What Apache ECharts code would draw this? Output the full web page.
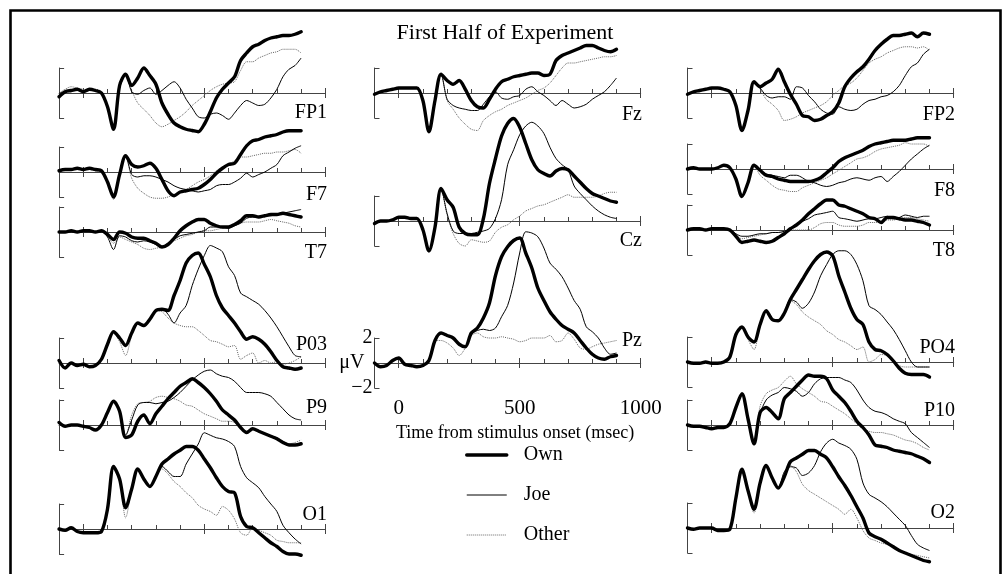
<!DOCTYPE html>
<html><head><meta charset="utf-8">
<script src="https://cdn.jsdelivr.net/npm/echarts@6/dist/echarts.min.js"></script>
<style>html,body{margin:0;padding:0;background:#fff}#c{width:1003px;height:574px}</style>
</head><body><div id="c"></div>
<script>
// time axis (ms)
const times = [-100,-75,-50,-25,0,25,50,75,100,125,150,175,200,225,250,275,300,325,350,375,400,425,450,475,500,525,550,575,600,625,650,675,700,725,750,775,800,825,850,875,900];
const xTicks = [0, 500, 1000];

// values in microvolts
const FP1_own   = [-0.3,0.1,0.2,0.3,0.1,0.3,0.2,0.0,-1.1,-2.9,0.6,1.5,0.6,1.2,2.0,1.4,0.7,-0.8,-1.7,-2.4,-2.7,-2.9,-3.0,-3.1,-2.5,-1.5,-0.4,0.3,0.8,1.3,2.6,3.2,3.7,3.9,4.2,4.4,4.5,4.6,4.6,4.7,4.9];
const FP1_joe   = [0.0,0.1,0.2,0.3,0.1,0.2,0.2,0.0,-1.0,-2.8,0.4,1.5,0.1,-0.1,0.2,0.4,-0.1,0.2,0.6,0.9,0.4,-0.5,-1.2,-1.9,-2.0,-1.7,-1.6,-1.8,-2.1,-1.6,-1.0,-0.6,-0.8,-1.0,-0.9,-0.4,0.3,1.3,1.9,2.2,2.8];
const FP1_other = [0.0,0.3,0.5,0.4,0.3,0.2,0.3,0.1,-1.0,-2.8,0.4,1.4,0.2,-0.8,-1.3,-1.8,-2.4,-2.7,-2.5,-2.2,-1.9,-1.5,-1.0,-0.6,-0.2,0.2,0.5,0.7,0.8,0.9,1.8,2.5,2.5,2.8,3.0,3.2,3.3,3.5,3.5,3.5,3.2];

const F7_own   = [0.1,0.2,0.2,0.3,0.2,0.3,0.2,0.1,-0.8,-2.0,-0.2,1.3,0.6,0.4,0.5,0.7,0.3,-0.6,-1.5,-1.9,-1.6,-1.5,-1.4,-1.3,-1.0,-0.6,-0.1,0.3,0.6,0.7,1.4,2.1,2.5,2.6,2.8,2.9,3.0,3.2,3.3,3.3,3.3];
const F7_joe   = [0.1,0.2,0.2,0.3,0.2,0.3,0.2,0.1,-0.8,-2.0,-0.2,1.3,-0.2,-0.4,-0.3,-0.3,-0.4,-0.6,-0.8,-1.1,-1.3,-1.4,-1.5,-1.6,-1.5,-1.4,-1.1,-1.0,-1.0,-0.8,-0.5,-0.1,-0.4,-0.2,0.0,0.3,0.6,1.3,1.6,1.9,2.1];
const F7_other = [0.1,0.2,0.2,0.2,0.2,0.2,0.1,0.0,-0.9,-2.2,-0.3,1.2,-0.5,-1.3,-1.7,-2.0,-2.1,-2.1,-2.0,-1.8,-1.6,-1.4,-1.1,-0.8,-0.6,-0.3,0.1,0.4,0.6,0.9,1.2,1.2,1.3,1.4,1.5,1.5,1.6,1.6,1.7,1.8,1.5];

const T7_own   = [0.0,0.0,0.1,0.0,0.1,0.1,0.0,0.1,-0.2,-0.6,0.0,-0.1,-0.4,-0.5,-0.5,-0.7,-0.9,-1.2,-1.0,-0.5,0.1,0.5,0.8,1.0,1.0,0.7,0.5,0.4,0.4,0.6,0.9,1.3,1.3,1.2,1.3,1.4,1.4,1.5,1.4,1.3,1.2];
const T7_joe   = [0.0,0.0,0.1,0.0,0.1,0.1,0.0,0.1,-0.4,-1.4,-0.3,-0.4,-0.7,-0.8,-0.7,-0.8,-1.0,-1.2,-0.9,-0.6,-0.3,-0.2,-0.1,0.0,0.1,0.4,0.4,0.4,0.3,0.5,0.7,1.1,1.2,1.2,1.3,1.3,1.4,1.5,1.6,1.7,1.8];
const T7_other = [0.0,0.0,0.1,0.0,0.1,0.1,0.0,0.1,-0.3,-0.9,-0.4,-0.6,-0.8,-1.0,-1.3,-1.4,-1.3,-1.2,-0.9,-0.7,-0.5,-0.3,-0.2,0.0,0.1,0.1,0.2,0.3,0.3,0.5,0.7,0.8,0.8,0.8,0.9,1.0,0.9,0.8,0.7,0.5,0.4];

const P03_own   = [0.2,-0.4,0.0,-0.2,-0.1,-0.3,-0.2,0.3,1.5,2.5,2.0,1.4,2.4,3.2,3.0,3.5,4.2,4.3,4.2,5.4,6.6,8.0,8.6,8.8,7.9,6.9,5.4,4.4,3.8,3.2,2.5,1.9,2.1,1.9,1.5,0.9,0.2,-0.3,-0.4,-0.5,-0.4];
const P03_joe   = [0.2,-0.4,0.0,-0.2,-0.1,-0.3,-0.2,0.3,1.5,2.5,2.0,1.4,2.4,3.2,3.0,3.5,4.2,4.3,3.9,3.2,4.0,4.6,6.2,7.5,8.6,9.4,9.2,8.9,7.7,7.0,5.6,5.3,5.0,4.7,4.2,3.6,2.9,2.1,1.3,0.6,0.5];
const P03_other = [0.2,-0.4,0.0,-0.2,-0.1,-0.3,-0.2,0.3,1.5,2.5,1.7,0.6,2.2,3.1,2.9,3.4,4.2,4.1,3.6,3.2,3.0,2.9,2.9,2.6,2.2,1.8,1.7,1.5,1.3,1.4,0.3,0.6,0.8,0.0,0.2,0.0,0.1,-0.1,0.0,0.2,0.5];

const P9_own   = [0.2,-0.1,0.0,0.0,-0.1,-0.2,-0.4,0.0,1.0,1.9,1.1,-1.0,-0.8,0.3,0.8,0.1,0.9,1.5,2.1,2.6,3.1,3.4,3.7,3.4,3.0,2.5,1.9,1.2,0.8,0.4,-0.2,-0.6,-0.3,-0.5,-0.7,-0.9,-1.1,-1.4,-1.6,-1.6,-1.5];
const P9_joe   = [0.2,-0.1,0.0,0.0,-0.1,-0.2,-0.4,0.0,1.0,1.9,1.1,-0.8,0.4,1.6,1.8,1.8,1.7,1.8,1.9,2.2,2.6,3.1,3.6,4.0,4.3,4.4,4.1,3.9,3.8,3.5,3.0,2.6,2.6,2.6,2.5,2.3,1.8,1.3,0.8,0.5,0.4];
const P9_other = [0.2,-0.1,0.0,0.0,-0.1,-0.2,-0.4,0.0,1.0,1.9,1.1,-0.9,0.8,1.7,1.8,1.9,2.2,2.3,2.2,2.1,1.9,1.6,1.5,1.2,0.9,0.7,0.5,0.3,0.3,0.2,-0.3,-0.5,-0.3,-0.5,-0.7,-0.9,-1.0,-1.3,-1.5,-1.4,-1.2];

const O1_own   = [0.0,-0.1,0.1,-0.2,-0.3,-0.3,-0.3,-0.2,1.6,5.0,4.0,1.7,3.2,4.8,4.0,3.4,4.2,5.2,5.6,6.0,6.3,6.6,6.6,6.3,5.6,4.9,4.1,3.4,3.0,2.9,1.0,0.2,0.1,-0.3,-0.7,-1.1,-1.4,-1.8,-2.0,-2.0,-2.1];
const O1_joe   = [0.0,-0.1,0.1,-0.2,-0.3,-0.3,-0.3,-0.2,1.6,5.0,4.0,1.7,3.2,4.8,4.0,3.4,4.3,5.0,4.6,4.2,4.2,5.2,6.0,6.8,7.7,7.5,7.3,7.2,7.0,6.6,5.0,4.1,3.7,3.3,2.6,2.0,1.4,0.3,-0.3,-0.8,-1.2];
const O1_other = [0.0,-0.1,0.1,-0.2,-0.3,-0.3,-0.3,-0.2,1.6,5.0,4.0,0.9,3.2,4.8,4.0,3.4,4.2,4.8,4.4,3.8,3.4,2.9,2.5,1.9,1.6,1.4,1.1,1.8,1.5,0.8,-0.3,-0.5,0.1,-0.1,-0.3,-0.5,-0.9,-1.0,-1.1,-1.1,-1.1];

const Fz_own   = [-0.1,0.1,0.2,0.3,0.4,0.4,0.4,0.4,-0.6,-3.1,-0.6,1.5,1.0,0.7,1.0,0.3,-0.6,-1.1,-1.2,-0.5,0.3,0.9,1.1,1.3,1.4,1.5,1.6,1.6,1.4,1.5,2.6,3.0,3.2,3.4,3.6,3.8,3.8,3.6,3.4,3.3,3.5];
const Fz_joe   = [-0.1,0.1,0.2,0.3,0.4,0.4,0.4,0.4,-0.6,-3.1,-0.6,1.5,-0.5,-1.0,-1.2,-1.3,-1.4,-1.4,-0.9,-0.3,0.1,-0.4,-0.5,-0.3,-0.2,0.3,0.5,0.1,-0.2,-0.6,-1.0,-0.6,-0.9,-1.2,-1.1,-0.9,-0.5,-0.2,0.1,0.6,1.2];
const Fz_other = [-0.1,0.1,0.2,0.3,0.4,0.4,0.4,0.4,-0.6,-3.1,-0.6,1.5,-0.6,-1.3,-2.0,-2.5,-2.9,-3.0,-2.2,-1.8,-1.5,-1.3,-1.0,-0.8,-0.6,-0.4,-0.1,0.2,0.4,0.8,1.4,2.0,2.4,2.4,2.5,2.6,2.7,2.8,2.9,2.9,3.0];

const Cz_own   = [-0.2,0.0,0.0,0.1,0.3,0.3,0.2,0.2,-0.7,-2.4,-0.5,2.6,1.7,1.1,-0.5,-1.0,-1.1,-1.1,0.2,3.0,5.0,6.8,7.8,8.2,7.5,6.2,4.9,4.1,3.8,3.6,4.0,4.2,4.1,3.6,3.1,2.6,2.2,2.0,1.8,1.6,1.5];
const Cz_joe   = [-0.2,0.0,0.0,0.1,0.3,0.3,0.2,0.2,-0.7,-2.4,-0.5,2.6,0.6,-0.8,-1.0,-1.0,-1.0,-0.9,-0.8,-0.6,0.2,1.7,4.5,5.7,6.9,7.6,7.9,7.6,7.0,5.9,5.0,4.5,4.1,2.8,2.2,1.7,1.2,0.8,0.5,0.3,0.2];
const Cz_other = [-0.2,0.0,0.0,0.1,0.3,0.3,0.2,0.2,-0.7,-2.4,-0.5,2.6,0.5,-1.0,-1.8,-2.0,-1.5,-1.6,-1.7,-1.6,-0.9,-0.5,-0.3,0.1,0.4,0.8,1.0,1.2,1.3,1.5,1.7,1.9,2.1,1.9,1.9,1.9,1.9,2.0,2.2,2.3,2.3];

const Pz_own   = [0.0,-0.3,-0.2,0.2,0.4,-0.1,-0.2,-0.3,-0.2,0.2,1.8,2.4,2.2,2.0,1.5,1.3,2.4,2.8,3.6,4.8,7.0,8.5,9.3,9.8,10.0,8.8,7.6,6.0,5.0,4.1,3.5,3.0,2.7,2.4,1.8,1.2,0.7,0.4,0.3,0.5,0.6];
const Pz_joe   = [0.0,-0.3,-0.2,0.2,0.4,-0.1,-0.2,-0.3,-0.2,0.2,1.8,2.4,2.2,2.0,1.5,1.3,2.3,2.6,2.7,2.6,2.8,3.7,4.6,6.4,8.8,10.5,10.4,10.1,9.2,8.0,7.5,6.9,6.0,5.0,4.3,2.9,2.5,2.0,1.2,0.7,0.8];
const Pz_other = [0.0,-0.3,-0.2,0.2,0.4,-0.1,-0.2,-0.3,-0.2,0.2,1.8,1.8,1.6,1.2,0.6,1.2,2.2,2.4,2.1,2.0,2.0,2.1,2.0,1.9,1.7,1.8,2.0,2.0,2.0,2.2,1.7,1.8,2.4,1.9,1.2,1.1,1.3,1.5,1.6,1.7,1.8];

const FP2_own   = [-0.1,0.1,0.2,0.3,0.4,0.4,0.3,0.1,-1.0,-3.0,-1.4,0.9,0.5,0.8,1.1,1.9,0.9,-0.1,-0.9,-1.8,-1.9,-2.2,-2.1,-1.8,-1.5,-0.8,0.5,1.2,1.7,2.1,2.7,3.4,3.9,4.3,4.6,4.6,4.7,4.8,4.5,4.8,4.7];
const FP2_joe   = [-0.1,0.1,0.2,0.3,0.4,0.4,0.3,0.1,-1.0,-3.0,-1.4,0.9,0.4,-0.2,-0.4,-0.3,-0.3,-0.5,0.5,0.4,-0.2,-0.7,-1.3,-1.6,-1.7,-1.1,-1.3,-1.4,-1.3,-0.9,-0.6,-0.5,-0.3,-0.2,0.1,0.6,1.4,2.1,2.4,3.1,3.5];
const FP2_other = [-0.1,0.1,0.2,0.3,0.4,0.4,0.3,0.1,-1.0,-3.0,-1.4,0.9,0.3,-0.5,-0.9,-1.4,-2.2,-2.1,-1.9,-1.6,-1.4,-1.2,-1.0,-0.7,-0.2,0.2,0.6,0.8,1.2,1.8,2.4,2.7,2.9,3.2,3.4,3.6,3.7,3.7,3.6,3.7,3.4];

const F8_own   = [0.0,0.1,0.0,0.0,0.0,0.1,0.3,0.1,-0.8,-2.2,-1.1,0.3,-0.1,-0.5,-0.6,-0.8,-0.9,-1.0,-1.0,-1.0,-1.0,-0.9,-0.7,-0.3,0.1,0.6,0.9,1.1,1.3,1.5,1.8,2.0,2.1,2.2,2.3,2.3,2.3,2.4,2.5,2.5,2.5];
const F8_joe   = [0.0,0.1,0.0,0.0,0.0,0.1,0.3,0.1,-0.8,-2.2,-1.1,0.3,-0.1,-0.4,-0.5,-0.6,-0.7,-0.5,-0.5,-0.7,-1.0,-1.1,-1.3,-1.4,-1.3,-1.1,-1.0,-0.8,-0.7,-0.8,-0.9,-0.7,-0.6,-1.0,-0.6,-0.2,0.3,0.8,1.2,1.6,1.9];
const F8_other = [0.0,0.1,0.0,0.0,0.0,0.1,0.3,0.1,-0.8,-2.2,-1.1,0.3,-0.5,-0.9,-1.3,-1.6,-1.7,-1.8,-1.8,-1.5,-1.3,-1.1,-0.9,-0.7,-0.4,-0.1,0.2,0.5,0.8,0.9,1.1,1.4,1.6,1.7,1.8,1.9,2.1,2.0,2.0,2.0,1.8];

const T8_own   = [0.0,0.1,0.1,0.0,0.1,0.1,0.1,0.0,-0.5,-1.0,-0.9,-0.8,-0.9,-1.0,-0.9,-0.6,-0.3,0.1,0.4,0.8,1.3,1.7,2.1,2.4,2.4,2.0,1.9,1.7,1.5,1.3,1.0,0.9,0.6,1.0,1.0,0.9,0.8,0.8,0.7,0.6,0.4];
const T8_joe   = [0.0,0.1,0.1,0.0,0.1,0.1,0.1,0.0,-0.3,-0.5,-0.5,-0.4,-0.3,-0.3,-0.2,-0.2,-0.1,0.1,0.5,0.7,0.9,1.2,1.3,1.4,1.5,1.0,0.9,0.8,0.7,0.8,0.9,0.9,1.0,1.1,0.9,1.0,1.2,1.1,1.0,1.1,1.1];
const T8_other = [0.0,0.1,0.1,0.0,0.1,0.1,0.1,0.0,-0.4,-0.7,-0.6,-0.5,-0.4,-0.3,-0.2,-0.2,-0.1,0.0,0.0,0.0,0.0,0.2,0.5,0.6,0.6,0.4,0.3,0.3,0.3,0.4,0.6,0.6,0.7,0.8,0.8,0.9,1.0,1.0,0.9,0.8,0.7];

const PO4_own   = [0.0,-0.1,-0.1,0.0,-0.1,-0.1,0.0,0.4,2.2,2.8,2.0,1.6,3.0,4.1,3.4,3.3,3.9,5.0,5.8,6.6,7.4,8.1,8.6,8.8,8.5,6.9,5.6,4.3,3.4,3.0,1.6,1.0,0.9,0.6,0.1,-0.5,-0.9,-1.0,-1.0,-1.0,-1.2];
const PO4_joe   = [0.0,-0.1,-0.1,0.0,-0.1,-0.1,0.0,0.4,2.2,2.8,2.0,1.6,3.0,4.1,3.4,3.3,3.9,5.0,4.8,4.3,4.7,5.6,6.9,7.8,8.6,8.9,8.9,8.6,7.8,6.5,4.5,4.2,3.8,3.2,2.6,1.8,0.9,0.0,-0.4,-0.4,-0.4];
const PO4_other = [0.0,-0.1,-0.1,0.0,-0.1,-0.1,0.0,0.4,2.2,2.8,1.8,1.0,3.0,4.0,3.4,3.3,3.9,4.9,4.6,4.0,3.6,3.3,3.0,2.5,2.2,1.8,1.6,1.3,1.0,1.2,0.0,0.2,0.6,0.5,0.0,-0.3,-0.4,-0.4,-0.4,-0.4,-0.4];

const P10_own   = [0.0,-0.1,-0.1,-0.2,-0.3,-0.2,-0.2,0.1,1.4,2.5,0.5,-1.5,1.0,1.4,1.0,0.5,2.1,2.6,3.1,3.6,4.0,3.9,3.9,3.7,2.8,2.3,1.8,1.1,0.3,-0.2,-0.8,-1.6,-1.7,-1.8,-2.0,-2.1,-2.2,-2.3,-2.5,-2.7,-3.0];
const P10_joe   = [0.0,-0.1,-0.1,-0.2,-0.3,-0.2,-0.2,0.1,1.4,2.5,0.5,-1.5,0.9,2.0,2.4,2.6,3.0,2.9,2.7,2.3,2.6,3.3,3.7,3.8,3.8,3.8,3.6,3.4,2.8,2.0,1.4,1.1,1.0,0.8,0.5,0.3,0.1,-0.6,-1.0,-1.4,-1.8];
const P10_other = [0.0,-0.1,-0.1,-0.2,-0.3,-0.2,-0.2,0.1,1.4,2.5,0.5,-1.5,1.5,2.5,2.8,3.0,3.5,3.9,3.3,2.9,2.6,2.3,1.9,1.8,1.5,1.2,0.9,0.5,0.1,-0.3,-0.5,-0.6,-0.6,-0.7,-0.8,-1.0,-1.2,-1.3,-1.5,-1.8,-2.0];

const O2_own   = [0.0,-0.1,0.0,0.0,0.0,-0.2,-0.2,-0.1,2.4,4.7,3.0,1.5,3.6,5.0,4.0,3.2,4.1,5.3,5.6,5.9,6.2,6.2,5.9,5.6,4.9,4.1,3.4,2.6,1.7,0.8,-0.4,-0.7,-0.9,-1.2,-1.5,-1.8,-2.0,-2.2,-2.4,-2.6,-2.7];
const O2_joe   = [0.0,-0.1,0.0,0.0,0.0,-0.2,-0.2,-0.1,2.4,4.7,3.0,1.5,3.6,5.0,4.0,3.2,4.5,4.9,4.8,4.2,4.4,5.0,6.1,6.8,7.1,6.8,6.6,6.3,5.5,3.6,2.7,2.4,2.1,1.7,1.2,0.7,0.2,-0.6,-1.3,-1.6,-1.8];
const O2_other = [0.0,-0.1,0.0,0.0,0.0,-0.2,-0.2,-0.1,2.4,4.7,3.0,1.2,3.6,5.0,4.0,3.2,4.1,5.0,4.5,3.5,3.0,2.7,2.4,2.1,1.8,1.5,1.1,1.5,0.8,-0.2,-0.8,-1.0,-1.2,-1.3,-1.4,-1.7,-2.0,-2.1,-2.2,-2.3,-2.4];

const seriesNames = ['Own', 'Joe', 'Other'];
const titleText = 'First Half of Experiment';
const xName = 'Time from stimulus onset (msec)';

// ---------- layout ----------
const FONT = '"Liberation Serif", "Times New Roman", Times, serif';
const PX_PER_MS = 0.242;
const PX_PER_UV = 12.5;
const colZeroX = { L: 83.3, M: 398.7, R: 711.7 };   // x of 0 ms
const colLabelRight = { L: 327, M: 642, R: 955 };

const panels = [
  { name: 'FP1', col: 'L', zero: 93,  lt: 103, d: [FP1_own, FP1_joe, FP1_other] },
  { name: 'F7',  col: 'L', zero: 172, lt: 185, d: [F7_own, F7_joe, F7_other] },
  { name: 'T7',  col: 'L', zero: 232, lt: 243, d: [T7_own, T7_joe, T7_other] },
  { name: 'P03', col: 'L', zero: 363, lt: 335, d: [P03_own, P03_joe, P03_other] },
  { name: 'P9',  col: 'L', zero: 425, lt: 398, d: [P9_own, P9_joe, P9_other] },
  { name: 'O1',  col: 'L', zero: 529, lt: 505, d: [O1_own, O1_joe, O1_other] },
  { name: 'Fz',  col: 'M', zero: 93,  lt: 105, d: [Fz_own, Fz_joe, Fz_other] },
  { name: 'Cz',  col: 'M', zero: 221, lt: 231, d: [Cz_own, Cz_joe, Cz_other] },
  { name: 'Pz',  col: 'M', zero: 363, lt: 331, d: [Pz_own, Pz_joe, Pz_other], axes: true },
  { name: 'FP2', col: 'R', zero: 93,  lt: 105, d: [FP2_own, FP2_joe, FP2_other] },
  { name: 'F8',  col: 'R', zero: 169, lt: 181, d: [F8_own, F8_joe, F8_other] },
  { name: 'T8',  col: 'R', zero: 230, lt: 241, d: [T8_own, T8_joe, T8_other] },
  { name: 'PO4', col: 'R', zero: 362, lt: 338, d: [PO4_own, PO4_joe, PO4_other] },
  { name: 'P10', col: 'R', zero: 425, lt: 401, d: [P10_own, P10_joe, P10_other] },
  { name: 'O2',  col: 'R', zero: 528, lt: 503, d: [O2_own, O2_joe, O2_other] }
];

const AX = '#444';
const lineStyles = [
  { color: '#000', width: 3.4, join: 'round', cap: 'round' },
  { color: '#000', width: 1 },
  { color: '#666', width: 1, type: 'dotted' }
];
const N = panels.length;
const grid = [], xAxis = [], yAxis = [], series = [];
const titles = [{
  text: titleText, left: 505, top: 22, textAlign: 'center', textVerticalAlign: 'top', padding: 0,
  textStyle: { fontFamily: FONT, fontSize: 22, fontWeight: 'normal', color: '#000' }
}];

panels.forEach((p, i) => {
  const zx = colZeroX[p.col];
  grid.push({ left: zx + (-100) * PX_PER_MS, top: p.zero - 2 * PX_PER_UV, width: 1100 * PX_PER_MS,
              height: 4 * PX_PER_UV, containLabel: false, outerBoundsMode: 'none' });
  xAxis.push({
    type: 'value', gridIndex: i, min: -100, max: 1000, interval: 100,
    axisLine: { show: true, onZero: true, lineStyle: { color: AX, width: 1 } },
    axisTick: { show: true, inside: true, length: 4, lineStyle: { color: AX, width: 1 } },
    splitLine: { show: false },
    axisLabel: p.axes ? {
      show: true, margin: 10, fontFamily: FONT, fontSize: 21, color: '#000',
      formatter: v => (v >= 0 && v % 500 === 0) ? String(v) : ''
    } : { show: false },
    name: p.axes ? xName : '', nameLocation: 'middle', nameGap: 36,
    nameTextStyle: { fontFamily: FONT, fontSize: 18, color: '#000', padding: [0, 0, 0, 15] }
  });
  yAxis.push({
    type: 'value', gridIndex: i, min: -2, max: 2, interval: 2,
    axisLine: { show: true, onZero: false, lineStyle: { color: AX, width: 1 } },
    axisTick: { show: true, inside: true, length: 5, lineStyle: { color: AX, width: 1 } },
    splitLine: { show: false },
    axisLabel: p.axes ? {
      show: true, margin: 2, fontFamily: FONT, fontSize: 20, color: '#000',
      formatter: v => v > 0 ? String(v) : (v === 0 ? '{u|μV}' : '\u22122'),
      rich: { u: { fontFamily: FONT, fontSize: 20, color: '#000', padding: [0, 8, 0, 0] } }
    } : { show: false }
  });
  p.d.forEach((arr, k) => {
    series.push({
      type: 'line', name: seriesNames[k], xAxisIndex: i, yAxisIndex: i,
      data: times.map((t, j) => [t, arr[j]]),
      symbol: 'none', showSymbol: false, clip: false, smooth: 0.3, silent: true,
      color: lineStyles[k].color, lineStyle: lineStyles[k], z: 4 - k,
      emphasis: { disabled: true }
    });
  });
  titles.push({
    text: p.name, left: colLabelRight[p.col], top: p.lt, textAlign: 'right', textVerticalAlign: 'top', padding: 0,
    textStyle: { fontFamily: FONT, fontSize: 20, fontWeight: 'normal', color: '#000' }
  });
});

// major ticks (0, 500, 1000) drawn both sides of the axis
panels.forEach((p, i) => {
  const zx = colZeroX[p.col];
  grid.push({ left: zx, top: p.zero - 5, width: 1000 * PX_PER_MS, height: 10, containLabel: false, outerBoundsMode: 'none' });
  xAxis.push({
    type: 'value', gridIndex: N + i, min: xTicks[0], max: xTicks[2], interval: xTicks[1] - xTicks[0],
    axisLine: { show: false }, axisTick: { show: false }, axisLabel: { show: false },
    splitLine: { show: true, lineStyle: { color: AX, width: 1 } }
  });
  yAxis.push({ type: 'value', gridIndex: N + i, min: 0, max: 1, show: false });
});

const chart = echarts.init(document.getElementById('c'), null, { renderer: 'canvas' });
chart.setOption({
  animation: false,
  backgroundColor: '#fff',
  title: titles,
  legend: {
    show: true, orient: 'vertical', left: 465, top: 445, right: 'auto', bottom: 'auto',
    itemWidth: 40, itemHeight: 20, itemGap: 20, padding: 0,
    selectedMode: false,
    itemStyle: { color: 'rgba(0,0,0,0)', borderWidth: 0, opacity: 0 },
    data: [
      { name: 'Own', lineStyle: { width: 3.5, color: '#000', type: 'solid' } },
      { name: 'Joe', lineStyle: { width: 1, color: '#000', type: 'solid' } },
      { name: 'Other', lineStyle: { width: 1, color: '#666', type: 'dotted' } }
    ],
    textStyle: { fontFamily: FONT, fontSize: 20, color: '#000', padding: [0, 0, 0, 12] }
  },
  grid, xAxis, yAxis, series,
  graphic: [{
    type: 'rect', silent: true, z: 100,
    shape: { x: 10.5, y: 10.5, width: 990, height: 600 },
    style: { fill: 'none', stroke: '#000', lineWidth: 2.6 }
  }]
});
</script>
</body></html>
